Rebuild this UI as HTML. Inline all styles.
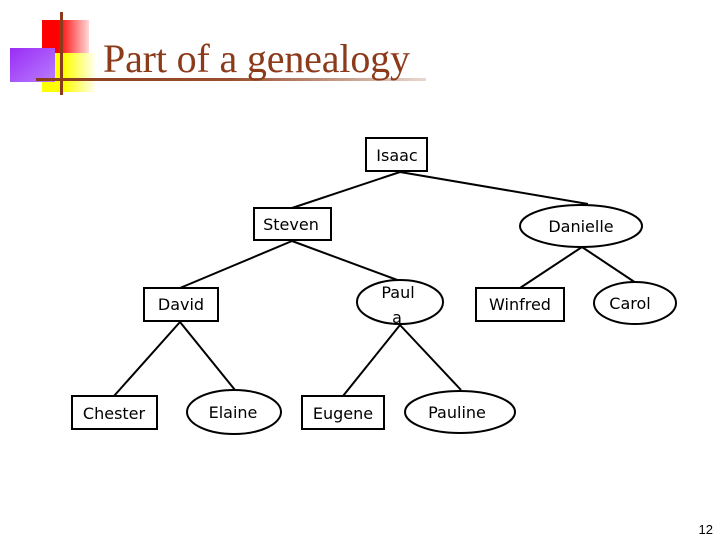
<!DOCTYPE html>
<html><head><meta charset="utf-8"><style>
html,body{margin:0;padding:0;background:#fff;}
body{width:720px;height:540px;position:relative;overflow:hidden;}
</style></head><body>
<svg width="720" height="540" viewBox="0 0 720 540" xmlns="http://www.w3.org/2000/svg">
<defs>
<linearGradient id="gr" x1="0" x2="1"><stop offset="0.35" stop-color="#ff0000"/><stop offset="1" stop-color="#ffd8d8"/></linearGradient>
<linearGradient id="gy" x1="0" x2="1"><stop offset="0.4" stop-color="#ffff00"/><stop offset="1" stop-color="#ffffff"/></linearGradient>
<linearGradient id="gp" x1="0" y1="0" x2="1" y2="1"><stop offset="0" stop-color="#9a2cf5"/><stop offset="1" stop-color="#b87cff"/></linearGradient>
<linearGradient id="gl" x1="0" x2="1"><stop offset="0" stop-color="#8b3a1a"/><stop offset="0.5" stop-color="#9a5030"/><stop offset="1" stop-color="#e8d8d0"/></linearGradient>
</defs>
<rect x="42" y="20" width="47" height="34" fill="url(#gr)"/>
<rect x="42" y="53" width="55" height="39" fill="url(#gy)"/>
<rect x="10" y="48" width="45" height="34" fill="url(#gp)"/>
<rect x="36" y="78" width="390" height="3" fill="url(#gl)"/>
<rect x="60" y="12" width="3" height="83" fill="#8b3a1a"/>
<text x="103" y="72" font-family="Liberation Serif, serif" font-size="40" fill="#8b3a1a" textLength="307">Part of a genealogy</text>

<g stroke="#000" stroke-width="2" fill="none">
<line x1="400" y1="172" x2="292" y2="208"/>
<line x1="400" y1="172" x2="588" y2="204"/>
<line x1="292" y1="241" x2="180" y2="288"/>
<line x1="292" y1="241" x2="400" y2="281"/>
<line x1="582" y1="247" x2="520" y2="288"/>
<line x1="582" y1="247" x2="636" y2="283"/>
<line x1="180" y1="322" x2="114" y2="396"/>
<line x1="180" y1="322" x2="235" y2="390"/>
<line x1="400" y1="325" x2="343" y2="396"/>
<line x1="400" y1="325" x2="461" y2="390"/>
<rect x="366" y="138" width="61" height="33" fill="#fff"/>
<rect x="254" y="208" width="77" height="32" fill="#fff"/>
<ellipse cx="581" cy="226" rx="61" ry="21" fill="#fff"/>
<rect x="144" y="288" width="74" height="33" fill="#fff"/>
<ellipse cx="400" cy="302" rx="43" ry="22" fill="#fff"/>
<rect x="476" y="288" width="88" height="33" fill="#fff"/>
<ellipse cx="635" cy="303" rx="41" ry="21" fill="#fff"/>
<rect x="72" y="396" width="85" height="33" fill="#fff"/>
<ellipse cx="234" cy="412" rx="47" ry="22" fill="#fff"/>
<rect x="302" y="396" width="82" height="33" fill="#fff"/>
<ellipse cx="460" cy="412" rx="55" ry="21" fill="#fff"/>
</g>
<g font-family="DejaVu Sans, sans-serif" font-size="16" fill="#000" text-anchor="middle">
<text x="397" y="161">Isaac</text>
<text x="291" y="230">Steven</text>
<text x="581" y="232">Danielle</text>
<text x="181" y="310">David</text>
<text x="398" y="298">Paul</text>
<text x="397" y="323">a</text>
<text x="520" y="310">Winfred</text>
<text x="630" y="309">Carol</text>
<text x="114" y="419">Chester</text>
<text x="233" y="418">Elaine</text>
<text x="343" y="419">Eugene</text>
<text x="457" y="418">Pauline</text>
</g>
<text x="713" y="534" font-family="Liberation Sans, sans-serif" font-size="13" text-anchor="end">12</text>
</svg>
</body></html>
